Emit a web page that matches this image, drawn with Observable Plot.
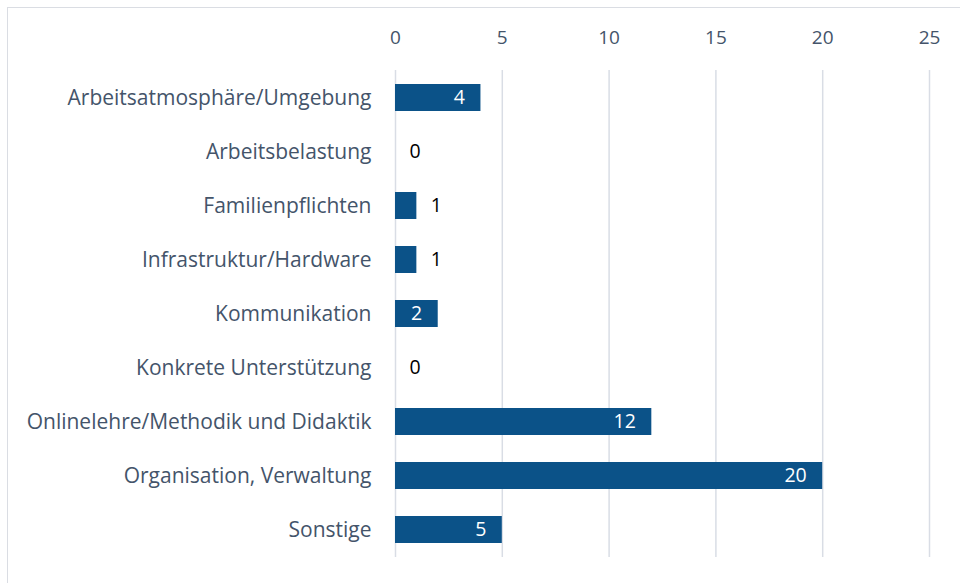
<!DOCTYPE html>
<html><head><meta charset="utf-8">
<script src="https://cdn.jsdelivr.net/npm/d3@7"></script>
<script src="https://cdn.jsdelivr.net/npm/@observablehq/plot@0.6"></script>
<style>
html,body{margin:0;padding:0;background:#fff;overflow:hidden;}
#wrap{position:relative;width:960px;height:583px;}
#frame{position:absolute;left:7px;top:7px;width:980px;height:600px;border:1.5px solid #dadde3;box-sizing:border-box;pointer-events:none;}
</style></head>
<body><div id="wrap"><div id="chart"></div><div id="frame"></div></div>
<script>
const categories = ["Arbeitsatmosphäre/Umgebung","Arbeitsbelastung","Familienpflichten","Infrastruktur/Hardware","Kommunikation","Konkrete Unterstützung","Onlinelehre/Methodik und Didaktik","Organisation, Verwaltung","Sonstige"];
const values = [4,0,1,1,2,0,12,20,5];
const ticks = [0,5,10,15,20,25];
const data = categories.map((c,i)=>({cat:c, v:values[i]}));
const inside = data.filter(d=>d.v>=2);
const outside = data.filter(d=>d.v<2);
const font = "'Open Sans', sans-serif";
const chart = Plot.plot({
  width:960, height:583,
  marginLeft:395, marginRight:31, marginTop:70, marginBottom:26,
  style:{fontFamily:font, fontSize:"18px", background:"#fff"},
  x:{domain:[0,25], axis:null},
  y:{domain:categories, paddingInner:0.5, paddingOuter:0.25, axis:null},
  marks:[
    Plot.gridX(ticks,{stroke:"#d9dde5", strokeOpacity:1, strokeWidth:1.5}),
    Plot.barX(data,{x:"v", y:"cat", fill:"#0b5288"}),
    Plot.axisX({anchor:"top", ticks:ticks, tickSize:0, tickPadding:27, fontSize:19, fill:"#44546a", label:null}),
    Plot.axisY({tickSize:0, tickPadding:24, fontSize:21, fill:"#44546a", label:null}),
    Plot.text(inside,{x:"v", y:"cat", text:d=>String(d.v), textAnchor:"end", dx:-16, fill:"#fff", fontSize:19.5}),
    Plot.text(outside,{x:"v", y:"cat", text:d=>String(d.v), textAnchor:"start", dx:14, fill:"#000", fontSize:19.5})
  ]
});
document.getElementById("chart").appendChild(chart);
</script></body></html>
